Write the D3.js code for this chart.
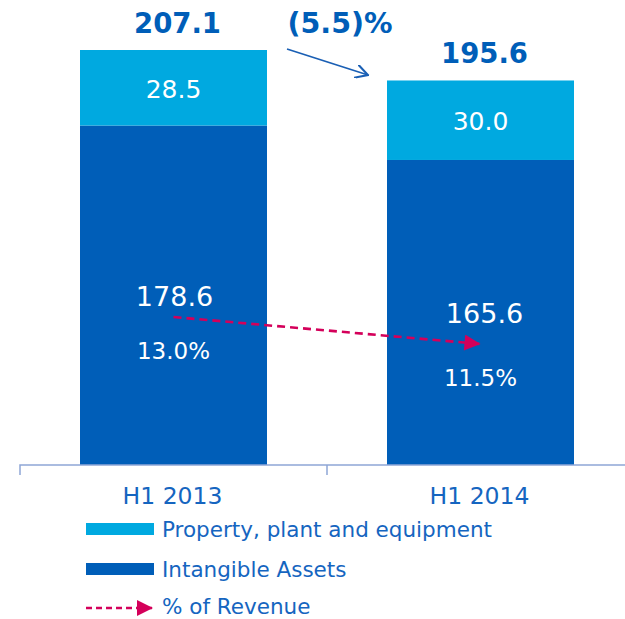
<!DOCTYPE html>
<html><head><meta charset="utf-8">
<script src="https://cdn.jsdelivr.net/npm/d3@7"></script>
<style>html,body{margin:0;padding:0;background:#fff;}svg{display:block;font-family:"DejaVu Sans",Verdana,sans-serif;}</style>
</head><body>
<svg id="c" width="625" height="619"></svg>
<script>
const categories = ["H1 2013", "H1 2014"];
const intangible = [178.6, 165.6];
const ppe = [28.5, 30.0];
const totals = [207.1, 195.6];
const pctRevenue = [13.0, 11.5];
const changeLabel = "(5.5)%";
const seriesNames = ["Property, plant and equipment", "Intangible Assets", "% of Revenue"];

const C_DARK = "#005EB8", C_LIGHT = "#00A9E0", C_TEXT = "#1565C0", C_RED = "#D4005A", C_AXIS = "#8EA6D6";
const svg = d3.select("#c");
const x = d3.scaleBand().domain(categories).range([20, 634]).padding(0);
const barW = 187;
const cx = c => x(c) + x.bandwidth() / 2;
const y = d3.scaleLinear().domain([50.5, 207.1]).range([465, 50]);
const py = d3.scaleLinear().domain([0, 13]).range([551, 317]);

const defs = svg.append("defs");
defs.append("marker").attr("id", "tri").attr("viewBox", "0 0 10 10").attr("refX", 10).attr("refY", 5)
  .attr("markerWidth", 17).attr("markerHeight", 16).attr("markerUnits", "userSpaceOnUse").attr("orient", "auto")
  .append("path").attr("d", "M0,0L10,5L0,10Z").attr("fill", C_RED);
defs.append("marker").attr("id", "open").attr("viewBox", "0 0 10 10").attr("refX", 9).attr("refY", 5)
  .attr("markerWidth", 14).attr("markerHeight", 14).attr("markerUnits", "userSpaceOnUse").attr("orient", "auto")
  .append("path").attr("d", "M0,0L9,5L0,10").attr("fill", "none").attr("stroke", "#1A5FB4").attr("stroke-width", 1.5);

// bars
categories.forEach((c, i) => {
  const x0 = cx(c) - barW / 2;
  svg.append("rect").attr("x", x0).attr("width", barW)
    .attr("y", y(intangible[i])).attr("height", y(y.domain()[0]) - y(intangible[i])).attr("fill", C_DARK);
  svg.append("rect").attr("x", x0).attr("width", barW)
    .attr("y", y(intangible[i] + ppe[i])).attr("height", y(intangible[i]) - y(intangible[i] + ppe[i])).attr("fill", C_LIGHT);
  svg.append("text").attr("x", cx(c) + 4).attr("y", y(totals[i]) - 17).attr("text-anchor", "middle")
    .attr("font-size", 27.5).attr("font-weight", "bold").attr("fill", C_DARK).text(totals[i].toFixed(1));
  const mid = (y(intangible[i]) + y(intangible[i] + ppe[i])) / 2;
  svg.append("text").attr("x", cx(c)).attr("y", mid + 10).attr("text-anchor", "middle")
    .attr("font-size", 25).attr("fill", "#fff").text(ppe[i].toFixed(1));
});

// axis
svg.append("path").attr("d", `M20,475V465H634M${x.range()[0] + x.step()},465V475`)
  .attr("fill", "none").attr("stroke", C_AXIS).attr("stroke-width", 1.5);
categories.forEach(c => {
  svg.append("text").attr("x", cx(c) - 1).attr("y", 504).attr("text-anchor", "middle")
    .attr("font-size", 23.5).attr("fill", C_TEXT).text(c);
});

// intangible labels and pct labels
const valOff = [-11, -21];
categories.forEach((c, i) => {
  svg.append("text").attr("x", cx(c) + (i ? 4 : 1)).attr("y", py(pctRevenue[i]) + valOff[i]).attr("text-anchor", "middle")
    .attr("font-size", 27).attr("fill", "#fff").text(intangible[i].toFixed(1));
  svg.append("text").attr("x", cx(c)).attr("y", py(pctRevenue[i]) + 42).attr("text-anchor", "middle")
    .attr("font-size", 23).attr("fill", "#fff").text(pctRevenue[i].toFixed(1) + "%");
});

// pct dashed arrow
svg.append("line").attr("x1", cx(categories[0])).attr("y1", py(pctRevenue[0]))
  .attr("x2", cx(categories[1])).attr("y2", py(pctRevenue[1]))
  .attr("stroke", C_RED).attr("stroke-width", 2.6).attr("stroke-dasharray", "8,5").attr("marker-end", "url(#tri)");

// change label and arrow
svg.append("text").attr("x", 340).attr("y", 33).attr("text-anchor", "middle")
  .attr("font-size", 28.5).attr("font-weight", "bold").attr("fill", C_DARK).text(changeLabel);
svg.append("line").attr("x1", 287).attr("y1", 49).attr("x2", 368).attr("y2", 75)
  .attr("stroke", "#1A5FB4").attr("stroke-width", 1.7).attr("marker-end", "url(#open)");

// legend
const lg = svg.append("g");
lg.append("rect").attr("x", 86).attr("y", 523).attr("width", 68).attr("height", 12).attr("fill", C_LIGHT);
lg.append("rect").attr("x", 86).attr("y", 563).attr("width", 68).attr("height", 12).attr("fill", C_DARK);
lg.append("line").attr("x1", 86).attr("y1", 608).attr("x2", 153).attr("y2", 608)
  .attr("stroke", C_RED).attr("stroke-width", 2.4).attr("stroke-dasharray", "6,4").attr("marker-end", "url(#tri)");
[537, 577, 614].forEach((yy, i) => {
  lg.append("text").attr("x", 162).attr("y", yy).attr("font-size", 21.5).attr("fill", C_TEXT).text(seriesNames[i]);
});
</script>
</body></html>
